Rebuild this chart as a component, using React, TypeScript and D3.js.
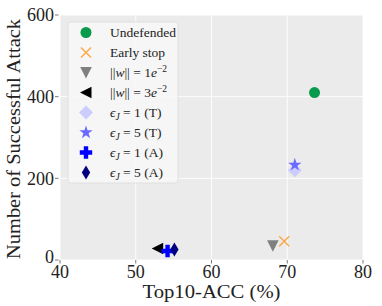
import * as d3 from "d3";

// values
const methods = [
  "Undefended",
  "Early stop",
  "w1e-2",
  "w3e-2",
  "eJ1T",
  "eJ5T",
  "eJ1A",
  "eJ5A",
];
const top10Acc = [73.6, 69.6, 68.1, 52.9, 71.0, 71.0, 54.2, 55.1];
const numAttacks = [410, 46, 35, 28, 220, 233, 22, 26];
const xTicks = [40, 50, 60, 70, 80];
const yTicks = [0, 200, 400, 600];

const colors = ["#0a9a4c", "#ffa43c", "#808080", "#000000", "#cccdfd", "#6a6aff", "#0000ff", "#000080"];
const shapes = ["circle", "x", "tridown", "trileft", "diamond", "star", "plus", "thin"];

const FONT = "'Liberation Serif', 'DejaVu Serif', serif";
const W = 382;
const H = 306;
const margin = { top: 15, right: 19, bottom: 46, left: 60 };

function markerPath(kind: string): string {
  switch (kind) {
    case "circle":
      return d3.symbol(d3.symbolCircle, 95)() || "";
    case "x":
      return "M-5,-5L5,5M-5,5L5,-5";
    case "tridown":
      return "M-5.8,-5.5L5.8,-5.5L0,6Z";
    case "trileft":
      return "M-6,0L5.5,-5.8L5.5,5.8Z";
    case "diamond":
      return "M0,-7L7,0L0,7L-7,0Z";
    case "star":
      return d3.symbol(d3.symbolStar, 55)() || "";
    case "plus":
      return "M-2.2,-6.2H2.2V-2.2H6.2V2.2H2.2V6.2H-2.2V2.2H-6.2V-2.2H-2.2Z";
    case "thin":
      return "M0,-7L4.2,0L0,7L-4.2,0Z";
  }
  return "";
}

function Marker({ i, cx, cy }: { i: number; cx: number; cy: number }) {
  const k = shapes[i];
  if (k === "x") {
    return (
      <path d={markerPath(k)} transform={`translate(${cx},${cy})`} fill="none" stroke={colors[i]} strokeWidth={1.3} />
    );
  }
  return <path d={markerPath(k)} transform={`translate(${cx},${cy})`} fill={colors[i]} />;
}

function Label({ i, x, y }: { i: number; x: number; y: number }) {
  const common = { x, y, fontFamily: FONT, fontSize: 13.5, fill: "#222" };
  const m = methods[i];
  if (m.startsWith("w")) {
    const c = m === "w1e-2" ? "1" : "3";
    return (
      <text {...common}>
        {"||"}
        <tspan fontStyle="italic">w</tspan>
        {"|| = " + c}
        <tspan fontStyle="italic">e</tspan>
        <tspan dy={-5} fontSize={9.5}>−2</tspan>
      </text>
    );
  }
  if (m.startsWith("eJ")) {
    const c = m[2];
    const t = m[3];
    return (
      <text {...common}>
        <tspan fontStyle="italic">ϵ</tspan>
        <tspan dy={3} fontSize={9.5} fontStyle="italic">J</tspan>
        <tspan dy={-3}>{` = ${c} (${t})`}</tspan>
      </text>
    );
  }
  return <text {...common}>{m}</text>;
}

export default function App() {
  const x = d3.scaleLinear().domain([40, 80]).range([margin.left, W - margin.right]);
  const y = d3.scaleLinear().domain([0, 600]).range([H - margin.bottom, margin.top]);
  const [x0, x1] = x.range();
  const [y0, y1] = y.range();

  const legX = 68;
  const legY = 22;
  const rowH = 20;

  return (
    <svg width={W} height={H} style={{ position: "absolute", left: 0, top: 0 }}>
      <rect x={0} y={0} width={W} height={H} fill="#fff" />
      <rect x={x0} y={y1} width={x1 - x0} height={y0 - y1} fill="#ebebeb" />
      {/* grid */}
      {xTicks.map((t) => (
        <line key={"gx" + t} x1={x(t)} x2={x(t)} y1={y1} y2={y0} stroke="#fff" strokeWidth={0.9} />
      ))}
      {yTicks.map((t) => (
        <line key={"gy" + t} x1={x0} x2={x1} y1={y(t)} y2={y(t)} stroke="#fff" strokeWidth={0.9} />
      ))}
      {/* ticks */}
      {xTicks.map((t) => (
        <g key={"tx" + t}>
          <line x1={x(t)} x2={x(t)} y1={y0} y2={y0 + 3.5} stroke="#555" strokeWidth={0.8} />
          <text x={x(t)} y={y0 + 18} textAnchor="middle" fontFamily={FONT} fontSize={18} fill="#222">
            {t}
          </text>
        </g>
      ))}
      {yTicks.map((t) => (
        <g key={"ty" + t}>
          <line x1={x0 - 5} x2={x0 - 1.5} y1={y(t)} y2={y(t)} stroke="#555" strokeWidth={0.8} />
          <text x={x0 - 6} y={y(t)} dy={t === 0 ? "0.15em" : "0.35em"} textAnchor="end" fontFamily={FONT} fontSize={18} fill="#222">
            {t}
          </text>
        </g>
      ))}
      {/* axis labels */}
      <text
        x={(x0 + x1) / 2}
        y={298}
        textAnchor="middle"
        fontFamily={FONT}
        fontSize={19}
        fill="#222"
        textLength={138}
        lengthAdjust="spacingAndGlyphs"
      >
        Top10-ACC (%)
      </text>
      <text
        transform={`translate(20,${139}) rotate(-90)`}
        textAnchor="middle"
        fontFamily={FONT}
        fontSize={19}
        fill="#222"
        textLength={240}
        lengthAdjust="spacingAndGlyphs"
      >
        Number of Successful Attack
      </text>
      {/* points */}
      {methods.map((_, i) => (
        <Marker key={"p" + i} i={i} cx={x(top10Acc[i])} cy={y(numAttacks[i])} />
      ))}
      {/* legend */}
      <rect x={legX} y={legY} width={110} height={161} rx={3} fill="#f7f7f7" fillOpacity={0.9} stroke="#dcdcdc" strokeWidth={0.8} />
      {methods.map((_, i) => (
        <g key={"l" + i}>
          <Marker i={i} cx={legX + 18} cy={legY + 10.5 + i * rowH} />
          <Label i={i} x={legX + 42} y={legY + 15 + i * rowH} />
        </g>
      ))}
    </svg>
  );
}
